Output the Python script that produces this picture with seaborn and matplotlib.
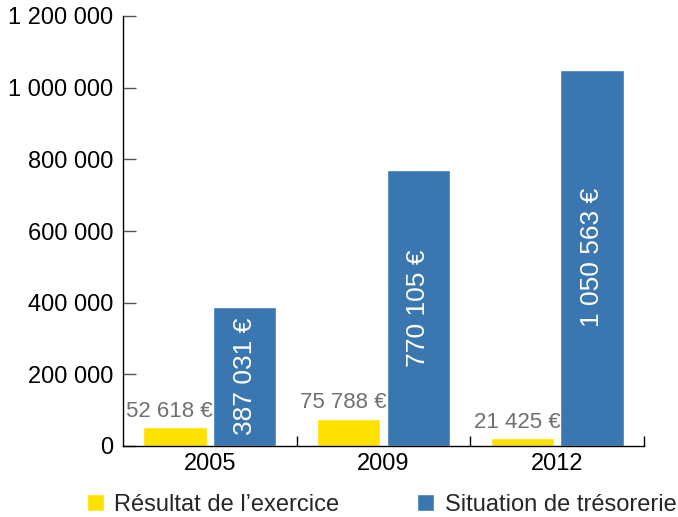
import matplotlib
matplotlib.use("Agg")
import matplotlib.pyplot as plt
from matplotlib.patches import Patch
from matplotlib.ticker import FuncFormatter, FixedLocator
import pandas as pd
import seaborn as sns

YELLOW, BLUE, GREY = "#FFE100", "#3A77B0", "#707070"

years = ["2005", "2009", "2012"]
series = ["Résultat de l’exercice", "Situation de trésorerie"]
resultat = [52618, 75788, 21425]
tresorerie = [387031, 770105, 1050563]
y_ticks = [0, 200000, 400000, 600000, 800000, 1000000, 1200000]

sns.set_style("white")
plt.rcParams.update({
    "font.family": ["Liberation Sans", "DejaVu Sans"],
    "axes.edgecolor": "black", "axes.linewidth": 1.0,
})


def spaced(v):
    return f"{int(round(v)):,}".replace(",", " ")


df = pd.DataFrame({
    "year": years * 2,
    "value": resultat + tresorerie,
    "serie": [series[0]] * len(years) + [series[1]] * len(years),
})

fig = plt.figure(figsize=(6.78, 5.17), dpi=100)
ax = fig.add_axes([123 / 678, 71 / 517, 521 / 678, 430 / 517])
sns.barplot(data=df, x="year", y="value", hue="serie", hue_order=series,
            palette=[YELLOW, BLUE], width=0.8, gap=0.09, saturation=1,
            legend=False, ax=ax)

ax.set_xlim(-0.5, len(years) - 0.5)
ax.set_ylim(y_ticks[0], y_ticks[-1])
ax.set_yticks(y_ticks)
ax.yaxis.set_major_formatter(FuncFormatter(lambda v, _: spaced(v)))
ax.set_xlabel(""); ax.set_ylabel("")
for s in ("top", "right"):
    ax.spines[s].set_visible(False)
ax.tick_params(axis="y", left=True, direction="in", length=9.5, width=1, color="#555555",
               labelsize=17, pad=7, labelcolor="black")
ax.tick_params(axis="x", which="major", bottom=True, length=0, labelsize=17, pad=5,
               labelcolor="black")
ax.xaxis.set_minor_locator(FixedLocator([i + 0.5 for i in range(len(years))]))
ax.tick_params(axis="x", which="minor", bottom=True, direction="in", length=7, width=1,
               color="black")

# yellow values above bars, blue values inside bars
for patch, v in zip(ax.containers[0], resultat):
    ax.annotate(f"{spaced(v)} €", (patch.get_x() + patch.get_width() / 2, patch.get_height()),
                xytext=(-4, 4), textcoords="offset points", ha="center", va="bottom",
                fontsize=16, color=GREY)
ax.bar_label(ax.containers[1], labels=[f"{spaced(v)} €" for v in tresorerie],
             label_type="center", rotation=90, color="white", fontsize=19)

handles = [Patch(facecolor=YELLOW), Patch(facecolor=BLUE)]
fig.legend(handles, series, loc="lower left", bbox_to_anchor=(70 / 678, -0.03),
           ncol=2, frameon=False, fontsize=17, handlelength=0.72, handleheight=0.72,
           handletextpad=0.45, columnspacing=3.3, borderaxespad=0.3)

fig.savefig("out.png", dpi=100, facecolor="white")
